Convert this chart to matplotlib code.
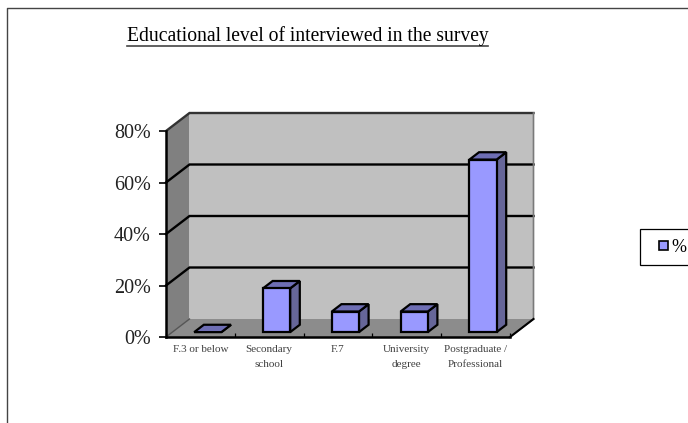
import matplotlib
matplotlib.use("Agg")
import matplotlib.pyplot as plt
from matplotlib.patches import Patch, Rectangle
from matplotlib.lines import Line2D
from matplotlib.legend_handler import HandlerPatch

plt.rcParams['font.family'] = ['Liberation Serif', 'DejaVu Serif']

categories = ['F.3 or below', 'Secondary\nschool', 'F.7', 'University\ndegree', 'Postgraduate /\nProfessional']
values = [0, 17, 8, 8, 67]
yticks = [0, 20, 40, 60, 80]
title = 'Educational level of interviewed in the survey'

W, H = 688, 423
fig = plt.figure(figsize=(W / 100, H / 100), dpi=100)
fig.patch.set_facecolor('white')
# front plane of the fake 3d box
ax = fig.add_axes([166 / W, 1 - 337 / H, 344 / W, 206 / H])
ax.set_xlim(0, 5)
ax.set_ylim(0, 80)
ax.patch.set_visible(False)

# depth of the box in data units
DX = 23.5 / 68.8
DY = 18 / 2.575


def off(x, y, d):
    return x + DX * d, y + DY * d


def poly(pts, **kw):
    ax.fill([p[0] for p in pts], [p[1] for p in pts], clip_on=False, **kw)


# walls
poly([off(0, 0, 1), off(5, 0, 1), off(5, 80, 1), off(0, 80, 1)], fc='#c0c0c0', ec='none', zorder=1)
poly([off(0, 0, 0), off(0, 0, 1), off(0, 80, 1), off(0, 80, 0)], fc='#808080', ec='none', zorder=1)
poly([off(0, 0, 0), off(5, 0, 0), off(5, 0, 1), off(0, 0, 1)], fc='#8c8c8c', ec='none', zorder=1)

# gridlines go along the side wall and the back wall
for v in yticks[1:]:
    a, b, c = off(0, v, 0), off(0, v, 1), off(5, v, 1)
    col = '#333333' if v == yticks[-1] else 'black'
    ax.plot([a[0], b[0], c[0]], [a[1], b[1], c[1]], color=col, lw=1.7, clip_on=False, zorder=2,
            solid_joinstyle='miter')
c0, c1 = off(5, 0, 0), off(5, 0, 1)
c2 = off(5, 80, 1)
ax.plot([c0[0], c1[0], c2[0]], [c0[1], c1[1], c2[1]], color='#7a7a7a', lw=1.2, clip_on=False, zorder=2)
ax.plot([c0[0], c1[0]], [c0[1], c1[1]], color='black', lw=1.5, clip_on=False, zorder=2)
a, b = off(0, 0, 0), off(0, 0, 1)
ax.plot([a[0], b[0]], [a[1], b[1]], color='#555555', lw=1.0, clip_on=False, zorder=2)

# bars
BAR_W = 0.395
D0, D1 = 0.27, 0.68
for i, v in enumerate(values):
    x0 = i + 0.5 - BAR_W / 2 + 0.015
    x1 = x0 + BAR_W
    poly([off(x1, 0, D0), off(x1, 0, D1), off(x1, v, D1), off(x1, v, D0)],
         fc='#666699', ec='black', lw=1.6, zorder=3, joinstyle='miter')
    poly([off(x0, v, D0), off(x1, v, D0), off(x1, v, D1), off(x0, v, D1)],
         fc='#6e6eb4', ec='black', lw=1.6, zorder=3, joinstyle='miter')
    if v > 0:
        poly([off(x0, 0, D0), off(x1, 0, D0), off(x1, v, D0), off(x0, v, D0)],
             fc='#9999ff', ec='black', lw=1.6, zorder=4, joinstyle='miter')

# axes
for s in ['top', 'right']:
    ax.spines[s].set_visible(False)
for s in ['left', 'bottom']:
    ax.spines[s].set_linewidth(1.8)
    ax.spines[s].set_zorder(5)
ax.set_yticks(yticks)
ax.set_yticklabels(['%d%%' % v for v in yticks], fontsize=14.5, color='#222222')
ax.tick_params(axis='y', length=5, width=1.2, pad=6)
ax.set_xticks(range(6))
ax.set_xticklabels([])
ax.tick_params(axis='x', which='major', direction='in', length=3, width=0.9)
ax.set_xticks([i + 0.5 for i in range(5)], minor=True)
ax.set_xticklabels(categories, minor=True, fontsize=8, color='#404040', linespacing=1.75)
ax.tick_params(axis='x', which='minor', length=0, pad=6)

# title with its rule
fig.text(127 / W, 1 - 41 / H, title, fontsize=14.1, color='black', ha='left', va='baseline')
fig.add_artist(Line2D([127 / W, 488 / W], [1 - 46 / H, 1 - 46 / H], color='#444444', lw=1.2))

# outer border of the picture
fig.add_artist(Line2D([7 / W, 7 / W, 1], [0, 1 - 8 / H, 1 - 8 / H], color='#444444', lw=1.0))


# small swatch pushed to the right of the legend handle box
def swatch(legend, orig_handle, xdescent, ydescent, width, height, fontsize):
    side = 6.5
    return Rectangle((width - side, (height - side) / 2), side, side)


leg = fig.legend(handles=[Patch(fc='#9999ff', ec='black', lw=1.2, label='%')],
                 handler_map={Patch: HandlerPatch(patch_func=swatch)},
                 loc='center left', bbox_to_anchor=(640 / W, 1 - 247 / H), fontsize=13,
                 fancybox=False, framealpha=1, edgecolor='black', handlelength=1.0,
                 handletextpad=0.2, borderpad=0.55, borderaxespad=0)
leg.get_frame().set_linewidth(0.9)

fig.savefig('out.png', dpi=100)
